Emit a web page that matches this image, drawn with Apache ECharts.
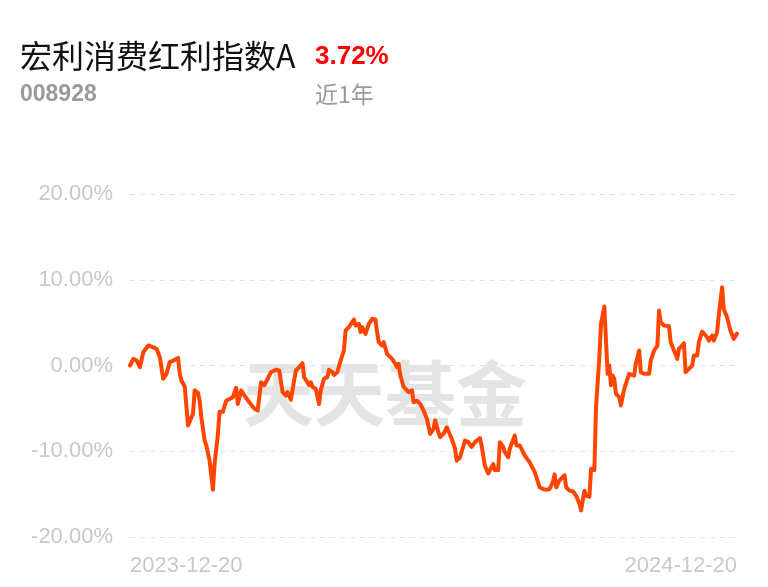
<!DOCTYPE html>
<html>
<head>
<meta charset="utf-8">
<script src="https://cdn.jsdelivr.net/npm/echarts@6/dist/echarts.min.js"></script>
<style>html,body{margin:0;padding:0;background:#fff;}#c{width:768px;height:587px;}</style>
</head>
<body>
<div id="c"></div>
<script>
// Day offsets from 2023-12-20 and cumulative return (%)
const days = [0,2,4,6,8,11,13,16,18,20,22,24,27,29,30,31,33,35,36,38,39,41,42,43,45,46,48,50,51,53,54,56,58,60,62,64,65,67,69,72,75,77,79,81,83,85,88,90,92,94,95,97,98,100,102,104,105,106,108,109,110,112,114,115,117,119,120,122,123,125,127,129,130,132,133,135,136,138,139,140,142,144,146,148,149,150,152,153,155,156,158,160,161,162,163,165,166,168,170,171,173,175,177,179,180,181,183,184,186,187,189,191,192,194,196,197,199,200,202,204,206,208,211,212,214,216,217,219,220,222,223,225,226,228,229,230,232,233,235,236,238,239,241,242,244,245,247,249,251,253,255,256,257,259,260,262,263,265,267,269,271,272,274,275,277,278,280,281,283,284,286,287,288,289,290,291,292,293,295,296,298,299,301,302,304,305,307,308,310,313,314,316,318,319,320,322,325,326,328,330,331,333,334,335,337,339,340,342,343,345,346,348,349,351,352,354,355,357,358,360,362,364,366];
const returns = [0.0,0.78,0.58,-0.2,1.55,2.33,2.2,1.94,0.97,-1.55,-0.97,0.39,0.66,0.89,-0.97,-1.75,-2.45,-7.0,-7.0,-5.6,-2.9,-3.2,-4.1,-6.0,-8.75,-9.3,-11.1,-14.5,-11.5,-8.0,-5.4,-5.4,-4.1,-3.9,-3.7,-2.6,-4.5,-2.9,-3.5,-4.3,-5.05,-5.25,-1.95,-2.3,-1.55,-0.78,-0.5,-0.58,-3.1,-3.5,-3.1,-4.0,-3.9,-0.58,-0.2,0.27,-1.36,-1.17,-2.3,-1.95,-2.5,-2.7,-4.5,-2.9,-1.55,-1.36,-0.5,-0.78,-1.1,-0.78,0.58,1.75,4.1,4.47,4.28,5.36,4.66,4.86,3.89,4.47,3.69,4.86,5.44,5.36,3.89,2.72,2.33,2.72,1.36,1.17,0.78,0.19,-0.2,0.19,-1.17,-2.5,-2.3,-3.1,-2.9,-4.28,-4.1,-4.47,-5.25,-6.2,-6.4,-7.97,-7.4,-6.4,-7.8,-8.36,-7.97,-7.2,-7.4,-8.55,-9.7,-11.1,-10.7,-10.9,-8.75,-8.94,-9.5,-8.94,-8.47,-9.33,-11.7,-12.6,-12.2,-11.5,-12.2,-12.2,-8.94,-9.5,-10.1,-10.7,-9.7,-9.9,-8.16,-9.33,-9.33,-9.7,-10.5,-10.7,-11.3,-11.5,-12.4,-13.0,-14.2,-14.4,-14.5,-14.4,-13.6,-12.7,-14.2,-13.4,-13.6,-12.8,-14.2,-14.6,-14.65,-15.2,-16.1,-16.9,-14.6,-15.2,-15.3,-12.05,-12.2,-4.86,0.97,4.86,6.88,2.9,-0.97,0.0,-2.3,-1.17,-1.55,-3.3,-3.7,-4.66,-2.72,-2.5,-0.97,-0.78,-1.17,0.19,1.75,-0.78,-0.97,-0.97,0.58,1.75,2.33,6.41,5.05,4.66,4.58,2.72,1.75,0.78,1.94,2.33,2.6,-0.78,-0.39,0,1.17,1.17,2.72,3.96,3.89,3.3,2.9,3.5,2.9,3.89,5.83,9.13,6.6,5.64,4.08,3.11,3.72];
const xTickDays = [0, 366];
const xTickLabels = ['2023-12-20', '2024-12-20'];
const yTicks = [-20, -10, 0, 10, 20];

const fundName = '宏利消费红利指数A';
const fundCode = '008928';
const periodReturn = '3.72%';
const periodLabel = '近1年';
const watermark = '天天基金';

const chart = echarts.init(document.getElementById('c'), null, {renderer: 'canvas'});
const seriesData = days.map((d, i) => [d, returns[i]]);

chart.setOption({
  animation: false,
  backgroundColor: '#ffffff',
  grid: {left: 130, right: 31, top: 194, bottom: 50, containLabel: false},
  graphic: [
    {type: 'text', left: 20, top: 40, z: 10, style: {text: fundName, fill: '#111', font: '32px "Noto Sans CJK SC"'}},
    {type: 'text', left: 315, top: 44, z: 10, style: {text: periodReturn, fill: '#ff0000', font: 'bold 26px "Liberation Sans"'}},
    {type: 'text', left: 20, top: 83, z: 10, style: {text: fundCode, fill: '#9a9a9a', font: 'bold 23px "Liberation Sans"'}},
    {type: 'text', left: 315, top: 83, z: 10, style: {text: periodLabel, fill: '#9a9a9a', font: '23px "Noto Sans CJK SC"'}},
    {type: 'text', x: 385, y: 393, z: 0, style: {text: watermark, fill: '#e4e4e4', font: 'bold 71px "Noto Sans CJK SC"', align: 'center', verticalAlign: 'middle'}}
  ],
  xAxis: {
    type: 'value', min: xTickDays[0], max: xTickDays[xTickDays.length - 1],
    axisLine: {show: false}, axisTick: {show: false}, splitLine: {show: false},
    axisLabel: {
      customValues: xTickDays,
      formatter: v => xTickLabels[xTickDays.indexOf(v)] || '',
      color: '#c8c8c8', fontSize: 22, fontFamily: 'Liberation Sans', margin: 18,
      alignMinLabel: 'left', alignMaxLabel: 'right'
    }
  },
  yAxis: {
    type: 'value', min: yTicks[0], max: yTicks[yTicks.length - 1], interval: 10,
    axisLine: {show: false}, axisTick: {show: false},
    axisLabel: {formatter: v => v.toFixed(2) + '%', color: '#c8c8c8', fontSize: 22, fontFamily: 'Liberation Sans', margin: 17},
    splitLine: {show: true, lineStyle: {color: '#e2e2e2', type: [5, 5], width: 1}}
  },
  series: [{
    type: 'line', data: seriesData, showSymbol: false, z: 5,
    lineStyle: {color: '#ff4500', width: 4, join: 'round', cap: 'round'},
    itemStyle: {color: '#ff4500'}
  }]
});
</script>
</body>
</html>
